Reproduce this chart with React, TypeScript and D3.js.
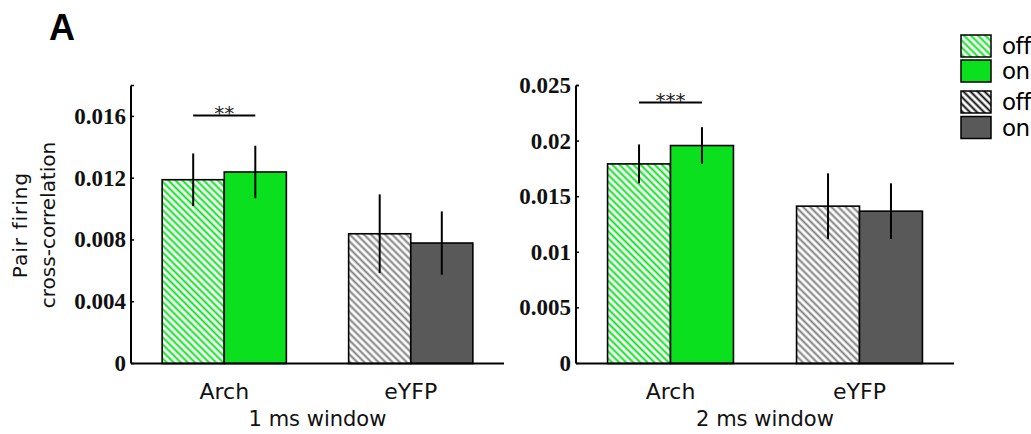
import React from 'react';
import * as d3 from 'd3';

// categories and conditions
const groups = ['Arch', 'eYFP'];
const conditions = ['off', 'on'];

// 1 ms window
const win1Off = [0.0119, 0.0084];
const win1On = [0.0124, 0.0078];
const win1OffErr = [0.0017, 0.00255];
const win1OnErr = [0.0017, 0.00205];
const win1Ticks = [0, 0.004, 0.008, 0.012, 0.016];
const win1TickLabels = ['0', '0.004', '0.008', '0.012', '0.016'];

// 2 ms window
const win2Off = [0.01795, 0.01415];
const win2On = [0.0196, 0.0137];
const win2OffErr = [0.00175, 0.00295];
const win2OnErr = [0.00165, 0.0025];
const win2Ticks = [0, 0.005, 0.01, 0.015, 0.02, 0.025];
const win2TickLabels = ['0', '0.005', '0.01', '0.015', '0.02', '0.025'];

// significance marks (Arch off vs on)
const sigLevel = [0.01605, 0.02347];
const sigLabel = ['**', '***'];

const windowTitles = ['1 ms window', '2 ms window'];

const GREEN = '#0be01f';
const DARK = '#595959';

interface PanelSpec {
  off: number[];
  on: number[];
  offErr: number[];
  onErr: number[];
  ticks: number[];
  tickLabels: string[];
  yMax: number;
  x0: number;
  x1: number;
  sig: number;
  sigText: string;
  title: string;
}

const App: React.FC = () => {
  const svgRef = React.useRef<SVGSVGElement>(null);
  const width = 1031;
  const height = 434;

  React.useEffect(() => {
    if (!svgRef.current) return;
    const svg = d3.select(svgRef.current);
    svg.selectAll('*').remove();

    // hatch patterns
    const defs = svg.append('defs');
    const hatch = (id: string, color: string, w: number) => {
      const p = defs.append('pattern')
        .attr('id', id)
        .attr('patternUnits', 'userSpaceOnUse')
        .attr('width', 5)
        .attr('height', 5)
        .attr('patternTransform', 'rotate(-45)');
      p.append('rect').attr('width', 5).attr('height', 5).attr('fill', '#fff');
      p.append('line')
        .attr('x1', 1.5).attr('y1', 0).attr('x2', 1.5).attr('y2', 5)
        .attr('stroke', color)
        .attr('stroke-width', w);
    };
    hatch('hatchGreen', GREEN, 2);
    hatch('hatchGray', '#808080', 2);
    hatch('hatchBlack', '#111', 2);

    const zeroY = 363.5;
    const topY = 85.5;

    const panels: PanelSpec[] = [
      {
        off: win1Off, on: win1On, offErr: win1OffErr, onErr: win1OnErr,
        ticks: win1Ticks, tickLabels: win1TickLabels, yMax: 0.018,
        x0: 131, x1: 504, sig: sigLevel[0], sigText: sigLabel[0], title: windowTitles[0]
      },
      {
        off: win2Off, on: win2On, offErr: win2OffErr, onErr: win2OnErr,
        ticks: win2Ticks, tickLabels: win2TickLabels, yMax: 0.025,
        x0: 576, x1: 954, sig: sigLevel[1], sigText: sigLabel[1], title: windowTitles[1]
      }
    ];

    panels.forEach(pn => {
      const g = svg.append('g');
      const x = d3.scaleLinear().domain([0.5, 2.5]).range([pn.x0, pn.x1]);
      const y = d3.scaleLinear().domain([0, pn.yMax]).range([zeroY, topY]);
      const barW = 0.333;

      // bars
      groups.forEach((grp, i) => {
        const c = i + 1;
        const isArch = grp === 'Arch';
        const vals = [pn.off[i], pn.on[i]];
        const errs = [pn.offErr[i], pn.onErr[i]];
        conditions.forEach((cond, j) => {
          const left = j === 0 ? c - barW : c;
          const fill = cond === 'off'
            ? (isArch ? 'url(#hatchGreen)' : 'url(#hatchGray)')
            : (isArch ? GREEN : DARK);
          g.append('rect')
            .attr('x', x(left))
            .attr('y', y(vals[j]))
            .attr('width', x(left + barW) - x(left))
            .attr('height', y(0) - y(vals[j]))
            .attr('fill', fill)
            .attr('stroke', '#000')
            .attr('stroke-width', 1.6);
          const cx = x(left + barW / 2);
          g.append('line')
            .attr('x1', cx).attr('x2', cx)
            .attr('y1', y(vals[j] + errs[j]))
            .attr('y2', y(vals[j] - errs[j]))
            .attr('stroke', '#000')
            .attr('stroke-width', 2);
        });
      });

      // y axis
      g.append('line')
        .attr('x1', pn.x0).attr('x2', pn.x0)
        .attr('y1', topY).attr('y2', zeroY)
        .attr('stroke', '#000').attr('stroke-width', 2);
      pn.ticks.forEach((t, k) => {
        g.append('line')
          .attr('x1', pn.x0).attr('x2', pn.x0 + 3)
          .attr('y1', y(t)).attr('y2', y(t))
          .attr('stroke', '#000').attr('stroke-width', 1.5);
        g.append('text')
          .attr('x', pn.x0 - 5)
          .attr('y', y(t) + 7.5)
          .attr('text-anchor', 'end')
          .attr('font-family', 'Liberation Serif')
          .attr('font-weight', 'bold')
          .attr('font-size', '23px')
          .attr('fill', '#111')
          .text(pn.tickLabels[k]);
      });
      // top tick
      g.append('line')
        .attr('x1', pn.x0).attr('x2', pn.x0 + 3)
        .attr('y1', topY).attr('y2', topY)
        .attr('stroke', '#000').attr('stroke-width', 1.5);

      // x axis
      g.append('line')
        .attr('x1', pn.x0).attr('x2', pn.x1)
        .attr('y1', zeroY).attr('y2', zeroY)
        .attr('stroke', '#000').attr('stroke-width', 2);

      groups.forEach((grp, i) => {
        g.append('text')
          .attr('x', x(i + 1))
          .attr('y', 399)
          .attr('text-anchor', 'middle')
          .attr('font-family', 'DejaVu Sans')
          .attr('font-size', '22px')
          .attr('fill', '#111')
          .text(grp);
      });

      g.append('text')
        .attr('x', (pn.x0 + pn.x1) / 2)
        .attr('y', 426)
        .attr('text-anchor', 'middle')
        .attr('font-family', 'DejaVu Sans')
        .attr('font-size', '21px')
        .attr('fill', '#111')
        .text(pn.title);

      // significance bar
      const sx0 = x(1 - barW / 2);
      const sx1 = x(1 + barW / 2);
      g.append('line')
        .attr('x1', sx0).attr('x2', sx1)
        .attr('y1', y(pn.sig)).attr('y2', y(pn.sig))
        .attr('stroke', '#000').attr('stroke-width', 2);
      g.append('text')
        .attr('x', (sx0 + sx1) / 2)
        .attr('y', y(pn.sig) + 4)
        .attr('text-anchor', 'middle')
        .attr('font-family', 'DejaVu Sans')
        .attr('font-size', '20px')
        .attr('fill', '#222')
        .text(pn.sigText);
    });

    // y label
    const yl = svg.append('text')
      .attr('transform', 'translate(0,225) rotate(-90)')
      .attr('text-anchor', 'middle')
      .attr('font-family', 'DejaVu Sans')
      .attr('font-size', '20px')
      .attr('fill', '#111');
    yl.append('tspan').attr('x', 0).attr('y', 27).attr('letter-spacing', 1).text('Pair firing');
    yl.append('tspan').attr('x', 0).attr('y', 55).text('cross-correlation');

    // panel letter
    svg.append('text')
      .attr('x', 49)
      .attr('y', 40)
      .attr('font-family', 'Liberation Sans')
      .attr('font-weight', 'bold')
      .attr('font-size', '36px')
      .attr('fill', '#000')
      .text('A');

    // legend
    const legendRows = [
      { fill: 'url(#hatchGreen)', label: conditions[0], y: 35 },
      { fill: GREEN, label: conditions[1], y: 60 },
      { fill: 'url(#hatchBlack)', label: conditions[0], y: 91 },
      { fill: DARK, label: conditions[1], y: 116.5 }
    ];
    legendRows.forEach(r => {
      svg.append('rect')
        .attr('x', 961).attr('y', r.y)
        .attr('width', 30).attr('height', 22)
        .attr('fill', r.fill)
        .attr('stroke', '#000')
        .attr('stroke-width', 1.5);
      svg.append('text')
        .attr('x', 1002)
        .attr('y', r.y + 19)
        .attr('font-family', 'DejaVu Sans')
        .attr('font-size', '23px')
        .attr('letter-spacing', -0.5)
        .attr('fill', '#000')
        .text(r.label);
    });
  }, []);

  return (
    <div style={{ position: 'absolute', left: 0, top: 0 }}>
      <svg ref={svgRef} width={width} height={height} style={{ display: 'block' }} />
    </div>
  );
};

export default App;
